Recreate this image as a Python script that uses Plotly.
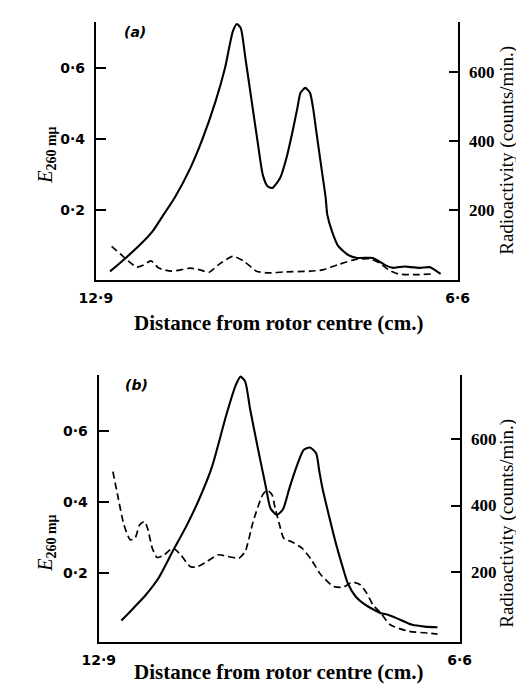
import plotly.graph_objects as go

W, H = 524, 684

# ---------------- Panel (a) ----------------
a_solid_x = [12.653, 12.379, 12.132, 11.913, 11.721, 11.530, 11.255, 11.036, 10.816, 10.651,
             10.515, 10.444, 10.378, 10.296, 10.186, 10.076, 9.993, 9.911, 9.829, 9.692,
             9.582, 9.474, 9.391, 9.336, 9.253, 9.171, 9.117, 9.062, 8.980, 8.898,
             8.870, 8.788, 8.678, 8.513, 8.349, 8.075, 7.965, 7.855, 7.719, 7.526,
             7.417, 7.253, 7.089, 7.006, 6.896]
a_solid_y = [0.027, 0.065, 0.102, 0.140, 0.187, 0.234, 0.318, 0.403, 0.506, 0.600,
             0.703, 0.724, 0.713, 0.628, 0.506, 0.384, 0.299, 0.267, 0.262, 0.290,
             0.346, 0.422, 0.487, 0.530, 0.544, 0.530, 0.487, 0.422, 0.328, 0.234,
             0.187, 0.140, 0.098, 0.074, 0.065, 0.065, 0.055, 0.044, 0.037, 0.041,
             0.039, 0.037, 0.039, 0.032, 0.020]

a_dash_x = [12.625, 12.379, 12.188, 12.078, 11.941, 11.803, 11.584, 11.255, 11.091, 10.926,
            10.762, 10.515, 10.322, 10.104, 9.885, 9.610, 9.171, 8.952, 8.678, 8.404,
            8.130, 7.965, 7.801, 7.636, 7.307, 7.061]
a_dash_y = [96, 60, 36, 41, 54, 33, 24, 33, 28, 21,
            43, 67, 53, 24, 19, 22, 24, 28, 43, 57,
            60, 48, 28, 16, 14, 16]

# ---------------- Panel (b) ----------------
b_solid_x = [12.504, 12.294, 12.075, 11.854, 11.606, 11.358, 11.139, 10.919, 10.672, 10.507,
             10.424, 10.342, 10.259, 10.121, 9.984, 9.901, 9.790, 9.682, 9.571, 9.434,
             9.323, 9.213, 9.104, 9.048, 8.993, 8.883, 8.746, 8.635, 8.553, 8.415,
             8.250, 7.975, 7.866, 7.701, 7.425, 7.206, 6.985]
b_solid_y = [0.066, 0.101, 0.139, 0.186, 0.262, 0.336, 0.411, 0.501, 0.646, 0.730,
             0.754, 0.740, 0.665, 0.552, 0.445, 0.383, 0.364, 0.380, 0.439, 0.505,
             0.547, 0.554, 0.538, 0.487, 0.439, 0.364, 0.276, 0.214, 0.172, 0.134,
             0.111, 0.087, 0.083, 0.073, 0.054, 0.049, 0.047]

b_dash_x = [12.652, 12.570, 12.459, 12.349, 12.266, 12.184, 12.101, 12.047, 11.964, 11.882,
            11.771, 11.606, 11.469, 11.304, 11.193, 11.028, 10.809, 10.644, 10.451, 10.342,
            10.203, 10.038, 9.956, 9.873, 9.819, 9.736, 9.670, 9.516, 9.351, 9.186,
            9.021, 8.800, 8.630, 8.470, 8.333, 8.222, 8.113, 7.975, 7.810, 7.480,
            7.150, 6.985]
b_dash_y = [502, 432, 342, 297, 302, 342, 352, 332, 272, 244,
            250, 272, 252, 217, 215, 230, 252, 247, 242, 262,
            352, 432, 446, 432, 392, 338, 302, 290, 272, 237,
            192, 157, 155, 170, 162, 137, 102, 77, 42, 22,
            17, 14]

x_tickvals = [12.9, 6.6]
x_ticktext = ["12·9", "6·6"]
left_tickvals = [0.2, 0.4, 0.6]
left_ticktext = ["0·2", "0·4", "0·6"]
right_tickvals = [200, 400, 600]
right_ticktext = ["200", "400", "600"]

SERIF = "Liberation Serif"
SANS = "DejaVu Sans"

def px_x(p):
    return p / W

def px_y(p):
    return 1 - p / H

fig = go.Figure()
line_solid = dict(color="black", width=2.1, shape="spline", smoothing=0.6)
line_dash = dict(color="black", width=1.7, shape="spline", smoothing=0.6, dash="7px,4px")

fig.add_trace(go.Scatter(x=a_solid_x, y=a_solid_y, mode="lines", line=line_solid, xaxis="x", yaxis="y"))
fig.add_trace(go.Scatter(x=a_dash_x, y=a_dash_y, mode="lines", line=line_dash, xaxis="x", yaxis="y2"))
fig.add_trace(go.Scatter(x=b_solid_x, y=b_solid_y, mode="lines", line=line_solid, xaxis="x2", yaxis="y3"))
fig.add_trace(go.Scatter(x=b_dash_x, y=b_dash_y, mode="lines", line=line_dash, xaxis="x2", yaxis="y4"))

xcommon = dict(range=[12.9, 6.6], showgrid=False, zeroline=False, showline=True, linecolor="black",
               linewidth=2, ticks="", tickvals=x_tickvals, ticktext=x_ticktext,
               tickfont=dict(family=SANS, size=14, color="black", weight="bold"), ticklabelstandoff=4)
ycommon_left = dict(showgrid=False, zeroline=False, showline=True, linecolor="black", linewidth=2,
                    ticks="inside", ticklen=10, tickwidth=2, tickcolor="black",
                    tickvals=left_tickvals, ticktext=left_ticktext, side="left",
                    tickfont=dict(family=SANS, size=14, color="black", weight="bold"), ticklabelstandoff=6)
ycommon_right = dict(showgrid=False, zeroline=False, showline=True, linecolor="black", linewidth=2,
                     ticks="inside", ticklen=9, tickwidth=2, tickcolor="black",
                     tickvals=right_tickvals, ticktext=right_ticktext, side="right",
                     tickfont=dict(family=SERIF, size=17, color="black", weight="bold"), ticklabelstandoff=6)

fig.update_layout(
    width=W, height=H, margin=dict(l=0, r=0, t=0, b=0),
    paper_bgcolor="white", plot_bgcolor="white", showlegend=False,
    xaxis=dict(xcommon, domain=[px_x(75), px_x(458)], anchor="y"),
    yaxis=dict(ycommon_left, domain=[px_y(272), px_y(14)], range=[0.0028, 0.7296], anchor="x"),
    yaxis2=dict(ycommon_right, domain=[px_y(272), px_y(14)], range=[-1.4, 744], overlaying="y", anchor="x"),
    xaxis2=dict(xcommon, domain=[px_x(78), px_x(460)], anchor="y3"),
    yaxis3=dict(ycommon_left, domain=[px_y(634), px_y(367)], range=[0.0056, 0.7586], anchor="x2"),
    yaxis4=dict(ycommon_right, domain=[px_y(634), px_y(367)], range=[-9.9, 792], overlaying="y3", anchor="x2"),
)

annots = []
for (lab, lx, ly) in [("(a)", 116, 24), ("(b)", 118, 377)]:
    annots.append(dict(text="<i>" + lab + "</i>", x=px_x(lx), y=px_y(ly), xref="paper", yref="paper",
                       xanchor="center", yanchor="middle",
                       showarrow=False, font=dict(family=SANS, size=14, color="black", weight="bold")))
for (cy) in [315, 664]:
    annots.append(dict(text="Distance from rotor centre (cm.)", x=px_x(268), y=px_y(cy), xref="paper", yref="paper",
                       xanchor="center", yanchor="middle",
                       showarrow=False, font=dict(family=SERIF, size=21, color="black", weight="bold")))
for (cy) in [147, 535]:
    annots.append(dict(text="<i>E</i><sub><b>260 mμ</b></sub>", x=px_x(22), y=px_y(cy), xref="paper", yref="paper",
                       xanchor="center", yanchor="middle",
                       showarrow=False, textangle=-90, font=dict(family=SERIF, size=20, color="black")))
for (cy) in [142, 515]:
    annots.append(dict(text="Radioactivity (counts/min.)", x=px_x(510), y=px_y(cy), xref="paper", yref="paper",
                       xanchor="center", yanchor="middle",
                       showarrow=False, textangle=-90, font=dict(family=SERIF, size=19, color="black")))
fig.update_layout(annotations=annots)

fig.write_html("out.html")
